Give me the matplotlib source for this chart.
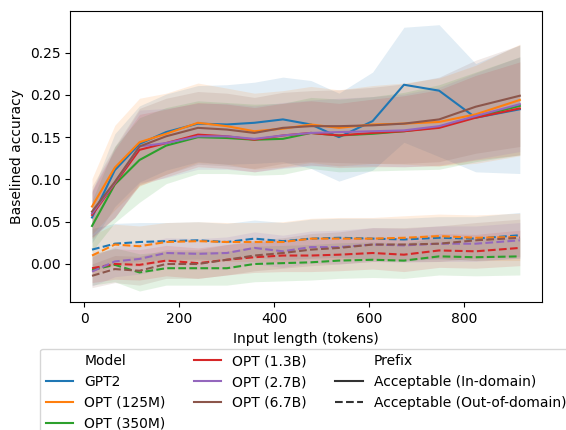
import numpy as np
import matplotlib
matplotlib.use("Agg")
import matplotlib.pyplot as plt
from matplotlib.lines import Line2D

# mean input length of each bucket (tokens)
lengths = [16, 64, 116, 172, 239, 300, 358, 418, 477, 536, 607, 673, 747, 824, 917]

models = ["GPT2", "OPT (125M)", "OPT (350M)", "OPT (1.3B)", "OPT (2.7B)", "OPT (6.7B)"]
colors = ["#1f77b4", "#ff7f0e", "#2ca02c", "#d62728", "#9467bd", "#8c564b"]

# acceptable prefix, in-domain
in_domain = {
    "GPT2":       [0.055, 0.111, 0.142, 0.156, 0.166, 0.165, 0.167, 0.171, 0.165, 0.150, 0.169, 0.212, 0.205, 0.173, 0.183],
    "OPT (125M)": [0.068, 0.114, 0.144, 0.154, 0.167, 0.163, 0.157, 0.160, 0.165, 0.161, 0.165, 0.166, 0.168, 0.177, 0.194],
    "OPT (350M)": [0.045, 0.094, 0.123, 0.140, 0.150, 0.149, 0.147, 0.148, 0.155, 0.152, 0.154, 0.157, 0.162, 0.174, 0.187],
    "OPT (1.3B)": [0.058, 0.095, 0.135, 0.143, 0.153, 0.151, 0.147, 0.152, 0.155, 0.152, 0.155, 0.157, 0.161, 0.173, 0.184],
    "OPT (2.7B)": [0.060, 0.096, 0.139, 0.143, 0.151, 0.151, 0.148, 0.152, 0.155, 0.156, 0.157, 0.158, 0.163, 0.175, 0.189],
    "OPT (6.7B)": [0.062, 0.097, 0.139, 0.151, 0.161, 0.159, 0.155, 0.161, 0.163, 0.163, 0.164, 0.166, 0.171, 0.186, 0.199],
}
in_domain_err = {
    "GPT2":       [0.030, 0.043, 0.045, 0.045, 0.045, 0.047, 0.048, 0.050, 0.052, 0.052, 0.058, 0.068, 0.078, 0.064, 0.076],
    "OPT (125M)": [0.033, 0.050, 0.052, 0.048, 0.047, 0.045, 0.045, 0.045, 0.045, 0.045, 0.046, 0.048, 0.052, 0.058, 0.066],
    "OPT (350M)": [0.030, 0.045, 0.050, 0.045, 0.043, 0.042, 0.042, 0.042, 0.042, 0.043, 0.044, 0.046, 0.050, 0.053, 0.058],
    "OPT (1.3B)": [0.028, 0.040, 0.042, 0.040, 0.038, 0.038, 0.038, 0.038, 0.038, 0.038, 0.040, 0.042, 0.045, 0.050, 0.055],
    "OPT (2.7B)": [0.028, 0.041, 0.043, 0.041, 0.039, 0.039, 0.039, 0.039, 0.039, 0.040, 0.041, 0.043, 0.046, 0.051, 0.056],
    "OPT (6.7B)": [0.030, 0.042, 0.045, 0.045, 0.043, 0.043, 0.042, 0.042, 0.042, 0.043, 0.045, 0.047, 0.050, 0.055, 0.060],
}

# acceptable prefix, out-of-domain
out_domain = {
    "GPT2":       [0.017, 0.024, 0.026, 0.027, 0.028, 0.026, 0.030, 0.027, 0.030, 0.031, 0.030, 0.029, 0.031, 0.030, 0.034],
    "OPT (125M)": [0.010, 0.023, 0.021, 0.026, 0.027, 0.026, 0.026, 0.026, 0.030, 0.030, 0.030, 0.031, 0.033, 0.031, 0.032],
    "OPT (350M)": [-0.007, -0.001, -0.010, -0.005, -0.005, -0.005, 0.000, 0.001, 0.002, 0.004, 0.005, 0.004, 0.009, 0.008, 0.009],
    "OPT (1.3B)": [-0.005, 0.000, -0.001, 0.004, 0.001, 0.005, 0.008, 0.010, 0.010, 0.011, 0.013, 0.011, 0.016, 0.015, 0.019],
    "OPT (2.7B)": [-0.009, 0.003, 0.006, 0.013, 0.012, 0.013, 0.019, 0.015, 0.020, 0.020, 0.023, 0.022, 0.024, 0.024, 0.028],
    "OPT (6.7B)": [-0.014, -0.006, -0.008, 0.000, 0.000, 0.005, 0.010, 0.013, 0.017, 0.019, 0.023, 0.023, 0.024, 0.028, 0.031],
}
out_domain_err = {
    "GPT2":       [0.025, 0.024, 0.023, 0.022, 0.022, 0.022, 0.022, 0.022, 0.023, 0.023, 0.024, 0.025, 0.025, 0.026, 0.027],
    "OPT (125M)": [0.024, 0.024, 0.024, 0.023, 0.023, 0.023, 0.023, 0.024, 0.024, 0.025, 0.025, 0.026, 0.026, 0.027, 0.028],
    "OPT (350M)": [0.018, 0.020, 0.022, 0.020, 0.020, 0.020, 0.021, 0.021, 0.021, 0.021, 0.021, 0.021, 0.022, 0.022, 0.022],
    "OPT (1.3B)": [0.017, 0.018, 0.018, 0.018, 0.018, 0.018, 0.018, 0.019, 0.019, 0.019, 0.019, 0.020, 0.020, 0.020, 0.021],
    "OPT (2.7B)": [0.017, 0.018, 0.018, 0.018, 0.018, 0.019, 0.019, 0.019, 0.019, 0.020, 0.020, 0.020, 0.021, 0.021, 0.021],
    "OPT (6.7B)": [0.014, 0.016, 0.017, 0.017, 0.017, 0.018, 0.018, 0.018, 0.019, 0.019, 0.020, 0.020, 0.021, 0.021, 0.022],
}

fig = plt.figure(figsize=(5.66, 4.30), dpi=100)
ax = fig.add_axes([0.124, 0.297, 0.833, 0.677])

x = np.array(lengths)
for name, c in zip(models, colors):
    for means, errs, ls in ((in_domain, in_domain_err, "-"), (out_domain, out_domain_err, (0, (3.7, 1.6)))):
        m = np.array(means[name])
        e = np.array(errs[name])
        ax.fill_between(x, m - e, m + e, color=c, alpha=0.13, linewidth=0)
        ax.plot(x, m, color=c, linestyle=ls, linewidth=1.5)

ax.set_xlim(-30, 963)
ax.set_ylim(-0.0453, 0.299)
ax.set_xticks([0, 200, 400, 600, 800])
ax.set_yticks([0.00, 0.05, 0.10, 0.15, 0.20, 0.25])
ax.set_xlabel("Input length (tokens)")
ax.set_ylabel("Baselined accuracy")

# legend with "Model" / "Prefix" headers like seaborn's hue/style legend
blank = Line2D([], [], color="none")
handles = [blank] + [Line2D([], [], color=c, linewidth=1.5) for c in colors]
labels = ["Model"] + models
handles += [blank,
            Line2D([], [], color="#333333", linewidth=1.5),
            Line2D([], [], color="#333333", linewidth=1.5, linestyle=(0, (3.7, 1.6)))]
labels += ["Prefix", "Acceptable (In-domain)", "Acceptable (Out-of-domain)"]
ax.legend(handles, labels, loc="upper center", bbox_to_anchor=(0.5, -0.135), ncol=3,
          frameon=True)

fig.savefig("out.png", dpi=100)
